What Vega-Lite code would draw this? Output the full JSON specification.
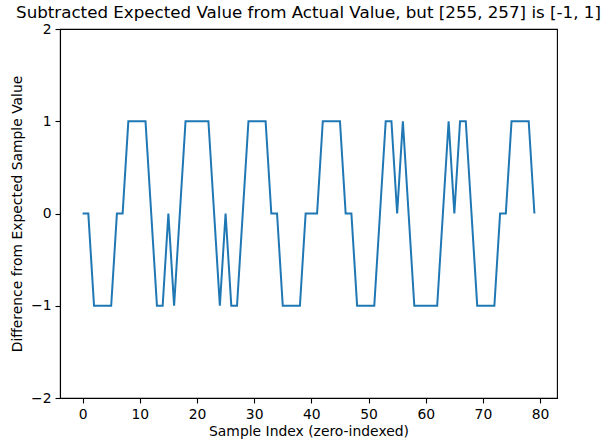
{
  "$schema": "https://vega.github.io/schema/vega-lite/v6.json",
  "width": 497,
  "height": 369,
  "autosize": "none",
  "padding": {"left": 60, "top": 29, "right": 44, "bottom": 45},
  "title": {
    "text": "Subtracted Expected Value from Actual Value, but [255, 257] is [-1, 1]",
    "font": "DejaVu Sans",
    "fontSize": 16.7,
    "fontWeight": "normal",
    "color": "black",
    "anchor": "middle",
    "offset": 0
  },
  "config": {
    "view": {"stroke": "black", "strokeWidth": 1.1},
    "axis": {
      "labelFont": "DejaVu Sans",
      "labelFontSize": 13.9,
      "labelColor": "black",
      "titleFont": "DejaVu Sans",
      "titleFontSize": 13.9,
      "titleFontWeight": "normal",
      "titleColor": "black",
      "tickColor": "black",
      "tickSize": 5,
      "tickWidth": 1.1,
      "domainColor": "black",
      "domainWidth": 1.1,
      "labelPadding": 4,
      "grid": false
    }
  },
  "data": {
    "values": [
      {"i":0,"v":0},{"i":1,"v":0},{"i":2,"v":-1},{"i":3,"v":-1},{"i":4,"v":-1},{"i":5,"v":-1},{"i":6,"v":0},{"i":7,"v":0},{"i":8,"v":1},{"i":9,"v":1},
      {"i":10,"v":1},{"i":11,"v":1},{"i":12,"v":0},{"i":13,"v":-1},{"i":14,"v":-1},{"i":15,"v":0},{"i":16,"v":-1},{"i":17,"v":0},{"i":18,"v":1},{"i":19,"v":1},
      {"i":20,"v":1},{"i":21,"v":1},{"i":22,"v":1},{"i":23,"v":0},{"i":24,"v":-1},{"i":25,"v":0},{"i":26,"v":-1},{"i":27,"v":-1},{"i":28,"v":0},{"i":29,"v":1},
      {"i":30,"v":1},{"i":31,"v":1},{"i":32,"v":1},{"i":33,"v":0},{"i":34,"v":0},{"i":35,"v":-1},{"i":36,"v":-1},{"i":37,"v":-1},{"i":38,"v":-1},{"i":39,"v":0},
      {"i":40,"v":0},{"i":41,"v":0},{"i":42,"v":1},{"i":43,"v":1},{"i":44,"v":1},{"i":45,"v":1},{"i":46,"v":0},{"i":47,"v":0},{"i":48,"v":-1},{"i":49,"v":-1},
      {"i":50,"v":-1},{"i":51,"v":-1},{"i":52,"v":0},{"i":53,"v":1},{"i":54,"v":1},{"i":55,"v":0},{"i":56,"v":1},{"i":57,"v":0},{"i":58,"v":-1},{"i":59,"v":-1},
      {"i":60,"v":-1},{"i":61,"v":-1},{"i":62,"v":-1},{"i":63,"v":0},{"i":64,"v":1},{"i":65,"v":0},{"i":66,"v":1},{"i":67,"v":1},{"i":68,"v":0},{"i":69,"v":-1},
      {"i":70,"v":-1},{"i":71,"v":-1},{"i":72,"v":-1},{"i":73,"v":0},{"i":74,"v":0},{"i":75,"v":1},{"i":76,"v":1},{"i":77,"v":1},{"i":78,"v":1},{"i":79,"v":0}
    ]
  },
  "mark": {"type": "line", "color": "#1f77b4", "strokeWidth": 2},
  "encoding": {
    "x": {
      "field": "i",
      "type": "quantitative",
      "scale": {"domain": [-3.95, 82.95], "nice": false, "zero": false},
      "axis": {"values": [0,10,20,30,40,50,60,70,80], "title": "Sample Index (zero-indexed)", "titlePadding": 4}
    },
    "y": {
      "field": "v",
      "type": "quantitative",
      "scale": {"domain": [-2, 2], "nice": false},
      "axis": {"values": [-2,-1,0,1,2], "title": "Difference from Expected Sample Value", "titlePadding": 6}
    }
  }
}
